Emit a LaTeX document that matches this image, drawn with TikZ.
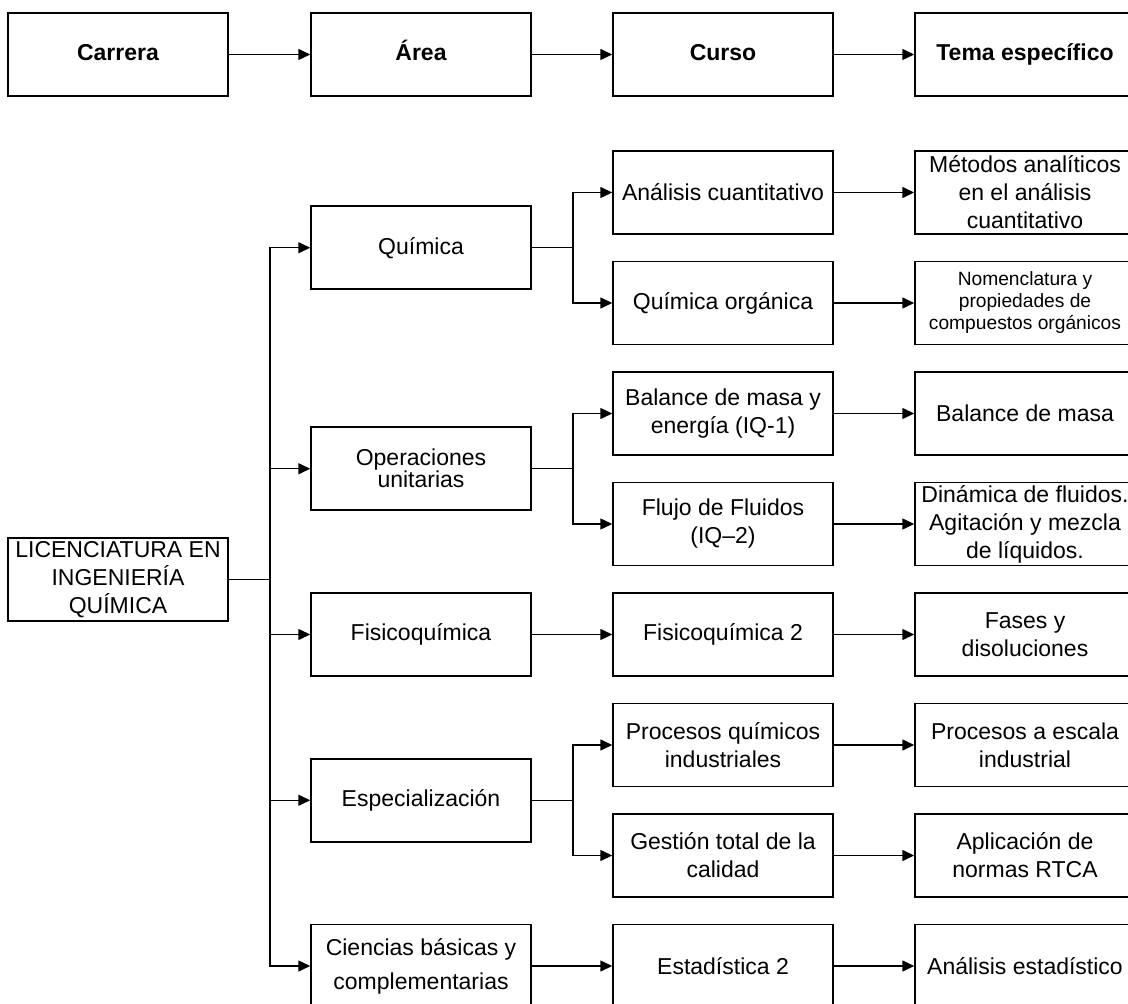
\documentclass[tikz,border=0pt]{standalone}
\usepackage{fontspec}
\setmainfont{Liberation Sans}
\usetikzlibrary{arrows.meta}
\begin{document}
\begin{tikzpicture}[x=0.5pt,y=-0.5pt,>={Triangle[length=6pt,width=5.5pt]},line width=0.75pt,
	caja/.style={draw,minimum width=110pt,minimum height=41.5pt,inner sep=0pt,align=center,font=\fontsize{11.5}{14}\selectfont},
	cabeza/.style={caja,font=\fontsize{11.5}{14}\selectfont\bfseries,text height=8.3pt,text depth=2.4pt},
	chica/.style={caja,font=\fontsize{9.6}{11}\selectfont}]
	\useasboundingbox (0,0) rectangle (1128,1004);
	% encabezado
	\node[cabeza] (car) at (118,54.5) {Carrera};
	\node[cabeza] (are) at (421,54.5) {Área};
	\node[cabeza] (cur) at (723,54.5) {Curso};
	\node[cabeza] (tem) at (1025,54.5) {Tema específico};
	\draw[->] (car)--(are);
	\draw[->] (are)--(cur);
	\draw[->] (cur)--(tem);
	% carrera y areas
	\node[caja] (lic) at (118,579.5) {LICENCIATURA EN\\INGENIERÍA\\QUÍMICA};
	\node[caja] (qui) at (421,247.75) {Química};
	\node[caja] (ope) at (421,468.75) {Operaciones\\[-3pt]unitarias};
	\node[caja] (fis) at (421,634.5) {Fisicoquímica};
	\node[caja] (esp) at (421,800.25) {Especialización};
	\node[caja] (cie) at (421,966) {Ciencias básicas y\\[3pt]complementarias};
	% cursos
	\node[caja] (c1) at (723,192.5) {Análisis cuantitativo};
	\node[caja] (c2) at (723,303) {Química orgánica};
	\node[caja] (c3) at (723,413.5) {Balance de masa y\\energía (IQ-1)};
	\node[caja] (c4) at (723,524) {Flujo de Fluidos\\(IQ–2)};
	\node[caja] (c5) at (723,634.5) {Fisicoquímica 2};
	\node[caja] (c6) at (723,745) {Procesos químicos\\industriales};
	\node[caja] (c7) at (723,855.5) {Gestión total de la\\calidad};
	\node[caja] (c8) at (723,966) {Estadística 2};
	% temas
	\node[caja] (t1) at (1025,192.5) {Métodos analíticos\\en el análisis\\cuantitativo};
	\node[chica] (t2) at (1025,303) {Nomenclatura y\\propiedades de\\compuestos orgánicos};
	\node[caja] (t3) at (1025,413.5) {Balance de masa};
	\node[caja] (t4) at (1025,524) {Dinámica de fluidos.\\Agitación y mezcla\\de líquidos.};
	\node[caja] (t5) at (1025,634.5) {Fases y\\disoluciones};
	\node[caja] (t6) at (1025,745) {Procesos a escala\\industrial};
	\node[caja] (t7) at (1025,855.5) {Aplicación de\\normas RTCA};
	\node[caja] (t8) at (1025,966) {Análisis estadístico};
	% conectores
	\coordinate (tr) at (270,579.5);
	\draw (lic)--(tr);
	\foreach \a in {qui,ope,fis,esp,cie} \draw[->] (tr) |- (\a);
	\draw[->] (qui.east)--++(41,0) |- (c1);
	\draw[->] (qui.east)--++(41,0) |- (c2);
	\draw[->] (ope.east)--++(41,0) |- (c3);
	\draw[->] (ope.east)--++(41,0) |- (c4);
	\draw[->] (fis)--(c5);
	\draw[->] (esp.east)--++(41,0) |- (c6);
	\draw[->] (esp.east)--++(41,0) |- (c7);
	\draw[->] (cie)--(c8);
	\foreach \i in {1,...,8} \draw[->] (c\i)--(t\i);
\end{tikzpicture}
\end{document}
